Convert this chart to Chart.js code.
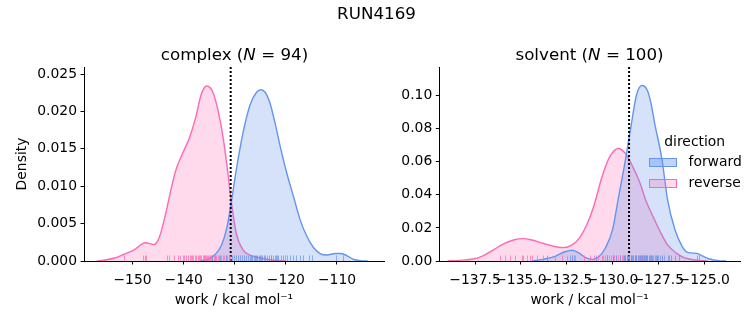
<!DOCTYPE html>
<html>
<head>
<meta charset="utf-8">
<script src="https://cdn.jsdelivr.net/npm/chart.js@4.4.1/dist/chart.umd.min.js"></script>
<style>
  html, body { margin: 0; padding: 0; background: #fff; }
  #wrap { position: relative; width: 753px; height: 325px; overflow: hidden; font-family: 'DejaVu Sans', sans-serif; color: #000; }
  canvas { position: absolute; top: 0; }
  .txt { position: absolute; white-space: nowrap; line-height: 1; }
  .title { font-size: 16.7px; transform: translateX(-50%); }
  .leg { font-size: 13.9px; }
  .patch { position: absolute; width: 27.8px; height: 9.7px; box-sizing: border-box; border: 1.2px solid; }
</style>
</head>
<body>
<div id="wrap">
  <canvas id="c-complex" width="395" height="325" style="left:0"></canvas>
  <canvas id="c-solvent" width="358" height="325" style="left:395px"></canvas>
  <div class="txt title" style="left:376.5px; top:5px">RUN4169</div>
  <div class="txt title" style="left:234.5px; top:46px">complex (<i>N</i> = 94)</div>
  <div class="txt title" style="left:589.5px; top:46px">solvent (<i>N</i> = 100)</div>
  <div class="txt leg" style="left:694.7px; top:134.7px; transform: translateX(-50%)">direction</div>
  <div class="patch" style="left:649px; top:157.5px; background: rgba(100,149,237,0.4); border-color:#6495ed"></div>
  <div class="patch" style="left:649px; top:178.5px; background: rgba(255,105,180,0.25); border-color:#ff69b4"></div>
  <div class="txt leg" style="left:688.5px; top:154.7px">forward</div>
  <div class="txt leg" style="left:688.5px; top:175.7px">reverse</div>
</div>
<script>
// complex leg: KDE curves (work, density)
const complexFwdX = [-136.8, -135.0, -133.8, -132.6, -131.6, -130.8, -129.7, -128.4, -127.0, -125.7, -124.9, -124.1, -123.1, -122.1, -121.1, -119.8, -118.5, -117.2, -115.9, -114.6, -113.3, -112.0, -110.3, -109.3, -108.0, -106.7, -105.4, -104.0]
const complexFwdY = [0, 0.0003, 0.0009, 0.0021, 0.0043, 0.0073, 0.0122, 0.0171, 0.0209, 0.0226, 0.0229, 0.0226, 0.0211, 0.0184, 0.0153, 0.0117, 0.0086, 0.0055, 0.0033, 0.0018, 0.0010, 0.0008, 0.0010, 0.0010, 0.0007, 0.0002, 0.00005, 0]
const complexRevX = [-157.0, -155.6, -153.5, -151.7, -149.7, -148.1, -147.4, -146.5, -145.8, -145.0, -144.5, -143.5, -142.5, -141.5, -140.2, -138.9, -137.6, -136.6, -135.5, -134.3, -133.3, -132.3, -131.5, -130.8, -129.7, -128.4, -127.0, -125.0, -122.5, -120.0]
const complexRevY = [0, 0.0001, 0.0004, 0.0009, 0.0015, 0.0023, 0.00245, 0.0023, 0.0022, 0.0028, 0.0037, 0.0064, 0.0095, 0.0122, 0.0144, 0.0164, 0.0193, 0.0222, 0.0234, 0.0226, 0.0202, 0.0166, 0.0126, 0.0086, 0.0037, 0.0015, 0.0008, 0.0004, 0.0001, 0]

// solvent leg
const solventFwdX = [-134.4, -133.7, -133.1, -132.6, -132.2, -131.8, -131.5, -131.1, -130.75, -130.4, -130.0, -129.7, -129.3, -129.0, -128.7, -128.4, -128.1, -127.9, -127.7, -127.3, -127.0, -126.6, -126.2, -125.9, -125.4, -125.2, -124.7, -124.2, -123.8]
const solventFwdY = [0, 0.0012, 0.003, 0.0056, 0.0065, 0.0046, 0.0022, 0.0010, 0.0026, 0.0077, 0.019, 0.037, 0.061, 0.081, 0.100, 0.106, 0.103, 0.095, 0.083, 0.061, 0.037, 0.019, 0.0087, 0.0052, 0.0046, 0.0036, 0.0012, 0.0002, 0]
const solventRevX = [-139.0, -138.4, -137.6, -137.1, -136.5, -136.0, -135.4, -134.9, -134.4, -133.8, -133.3, -132.7, -132.2, -131.8, -131.4, -131.0, -130.6, -130.2, -129.7, -129.3, -128.9, -128.5, -128.2, -127.8, -127.4, -127.0, -126.5, -126.1, -125.5, -124.8]
const solventRevY = [0, 0.0004, 0.0012, 0.003, 0.0067, 0.010, 0.0127, 0.0135, 0.0127, 0.0107, 0.0091, 0.0081, 0.0097, 0.014, 0.022, 0.034, 0.050, 0.062, 0.068, 0.065, 0.057, 0.047, 0.037, 0.027, 0.0177, 0.0097, 0.0046, 0.002, 0.0006, 0]

// rug samples (individual work values)
const complexFwdRug = [-134.5, -132.9, -131.8, -130.6, -130.2, -129.8, -129.4, -129.0, -128.6, -128.2, -127.8, -127.4, -127.1, -126.9, -126.7, -126.3, -126.0, -125.8, -125.6, -125.3, -125.0, -124.8, -124.6, -124.3, -124.0, -123.6, -123.3, -123.0, -122.9, -122.6, -122.2, -121.9, -121.7, -121.5, -121.0, -120.6, -120.2, -119.7, -119.1, -118.6, -118.0, -117.3, -116.6, -115.4, -114.8, -110.2, -108.9]
const complexRevRug = [-151.6, -147.9, -147.6, -147.3, -143.2, -142.9, -141.8, -141.2, -140.7, -140.1, -139.9, -139.6, -139.2, -138.8, -138.5, -138.3, -138.1, -137.8, -137.5, -137.2, -137.0, -136.9, -136.6, -136.3, -136.1, -136.0, -135.8, -135.6, -135.5, -135.2, -135.0, -134.9, -134.7, -134.4, -134.1, -133.9, -133.8, -133.6, -133.3, -133.0, -132.7, -132.4, -132.1, -131.8, -131.5, -131.2, -130.9]
const solventFwdRug = [-133.6, -132.3, -132.2, -132.1, -130.9, -130.3, -130.0, -129.8, -129.6, -129.4, -129.3, -129.2, -129.15, -129.1, -129.0, -128.95, -128.9, -128.8, -128.75, -128.7, -128.6, -128.55, -128.5, -128.45, -128.4, -128.35, -128.3, -128.25, -128.2, -128.15, -128.1, -128.0, -127.95, -127.9, -127.85, -127.8, -127.7, -127.65, -127.6, -127.5, -127.4, -127.3, -127.2, -127.0, -126.9, -126.8, -126.6, -126.4, -125.4, -125.3]
const solventRevRug = [-136.13, -135.86, -135.59, -135.31, -134.95, -134.86, -134.67, -134.53, -134.4, -134.13, -133.77, -133.13, -132.76, -132.49, -132.22, -132.04, -131.58, -131.22, -131.0, -130.8, -130.6, -130.5, -130.4, -130.3, -130.2, -130.1, -130.0, -129.9, -129.8, -129.7, -129.6, -129.5, -129.45, -129.4, -129.3, -129.2, -129.1, -129.0, -128.9, -128.8, -128.7, -128.6, -128.5, -128.4, -128.3, -128.1, -128.0, -127.9, -127.6, -127.3]

// dotted reference lines
const complexRef = -130.8
const solventRef = -129.1

// axis ranges and ticks
const complexXRange = [-159.5, -100.8]
const complexYMax = 0.02594
const solventXRange = [-139.45, -123.05]
const solventYMax = 0.1172
const complexXTicks = [-150, -140, -130, -120, -110]
const complexYTicks = [0, 0.005, 0.010, 0.015, 0.020, 0.025]
const solventXTicks = [-137.5, -135.0, -132.5, -130.0, -127.5, -125.0]
const solventYTicks = [0, 0.02, 0.04, 0.06, 0.08, 0.10]

const BLUE = '#6495ed'
const PINK = '#ff69b4'
const FONT = { family: "'DejaVu Sans', sans-serif", size: 13.9, lineHeight: 1.2 }

Chart.defaults.font.family = FONT.family
Chart.defaults.color = '#000'

const pts = (xs, ys) => xs.map((x, i) => ({ x, y: ys[i] }))
const minus = (s) => s.replace('-', '\u2212')

function rugPlugin(fwd, rev) {
  return {
    id: 'rug',
    afterDatasetsDraw(chart) {
      const { ctx, chartArea, scales } = chart
      ctx.save()
      ctx.beginPath()
      ctx.rect(chartArea.left, chartArea.top, chartArea.width, chartArea.height)
      ctx.clip()
      ctx.lineWidth = 1
      const draw = (vals, color) => {
        ctx.strokeStyle = color
        vals.forEach(v => {
          const x = Math.round(scales.x.getPixelForValue(v)) + 0.5
          ctx.beginPath()
          ctx.moveTo(x, chartArea.bottom)
          ctx.lineTo(x, chartArea.bottom - 5.5)
          ctx.stroke()
        })
      }
      draw(rev, 'rgba(255,105,180,0.7)')
      draw(fwd, 'rgba(100,149,237,0.7)')
      ctx.restore()
    },
  }
}

function makeChart(el, cfg) {
  return new Chart(el, {
    type: 'line',
    data: {
      datasets: [
        {
          data: [{ x: cfg.ref, y: 0 }, { x: cfg.ref, y: cfg.yMax }],
          borderColor: '#000', borderWidth: 2, borderDash: [2, 2],
          pointRadius: 0, fill: false, tension: 0,
        },
        {
          label: 'forward',
          data: pts(cfg.fwdX, cfg.fwdY),
          borderColor: BLUE, borderWidth: 1.4,
          backgroundColor: 'rgba(100,149,237,0.27)',
          fill: 'origin', pointRadius: 0, cubicInterpolationMode: 'monotone',
        },
        {
          label: 'reverse',
          data: pts(cfg.revX, cfg.revY),
          borderColor: PINK, borderWidth: 1.4,
          backgroundColor: 'rgba(255,105,180,0.25)',
          fill: 'origin', pointRadius: 0, cubicInterpolationMode: 'monotone',
        },
      ],
    },
    options: {
      responsive: false,
      animation: false,
      devicePixelRatio: 1,
      layout: { padding: { top: 67, right: cfg.padRight, left: 0, bottom: 0 } },
      plugins: { legend: { display: false }, tooltip: { enabled: false } },
      scales: {
        x: {
          type: 'linear',
          min: cfg.xRange[0], max: cfg.xRange[1],
          afterFit: (s) => { s.height = 64 },
          afterBuildTicks: (s) => { s.ticks = cfg.xTicks.map(v => ({ value: v })) },
          grid: { drawOnChartArea: false, tickLength: 3.5, tickColor: '#000', tickWidth: 1 },
          border: { color: '#000', width: 1 },
          ticks: {
            autoSkip: false, maxRotation: 0, padding: 7.5, font: FONT, color: '#000',
            callback: (v) => minus(cfg.xFmt(v)),
          },
          title: { display: true, text: 'work / kcal mol\u207b\u00b9', font: FONT, color: '#000', padding: { top: 0, bottom: 16.7 } },
        },
        y: {
          min: 0, max: cfg.yMax,
          afterFit: (s) => { s.width = cfg.yWidth },
          afterBuildTicks: (s) => { s.ticks = cfg.yTicks.map(v => ({ value: v })) },
          grid: { drawOnChartArea: false, tickLength: 3.5, tickColor: '#000', tickWidth: 1 },
          border: { color: '#000', width: 1 },
          ticks: { padding: 3.5, font: FONT, color: '#000', callback: (v) => v.toFixed(cfg.yDigits) },
          title: { display: cfg.yTitle, text: 'Density', font: FONT, color: '#000', padding: { top: 13.7, bottom: 0 } },
        },
      },
    },
    plugins: [rugPlugin(cfg.fwdRug, cfg.revRug)],
  })
}

makeChart(document.getElementById('c-complex'), {
  fwdX: complexFwdX, fwdY: complexFwdY, revX: complexRevX, revY: complexRevY,
  fwdRug: complexFwdRug, revRug: complexRevRug, ref: complexRef,
  xRange: complexXRange, yMax: complexYMax, xTicks: complexXTicks, yTicks: complexYTicks,
  xFmt: (v) => v.toFixed(0), yDigits: 3, yWidth: 84, padRight: 11, yTitle: true,
})

makeChart(document.getElementById('c-solvent'), {
  fwdX: solventFwdX, fwdY: solventFwdY, revX: solventRevX, revY: solventRevY,
  fwdRug: solventFwdRug, revRug: solventRevRug, ref: solventRef,
  xRange: solventXRange, yMax: solventYMax, xTicks: solventXTicks, yTicks: solventYTicks,
  xFmt: (v) => v.toFixed(1), yDigits: 2, yWidth: 44.3, padRight: 13, yTitle: false,
})
</script>
</body>
</html>
